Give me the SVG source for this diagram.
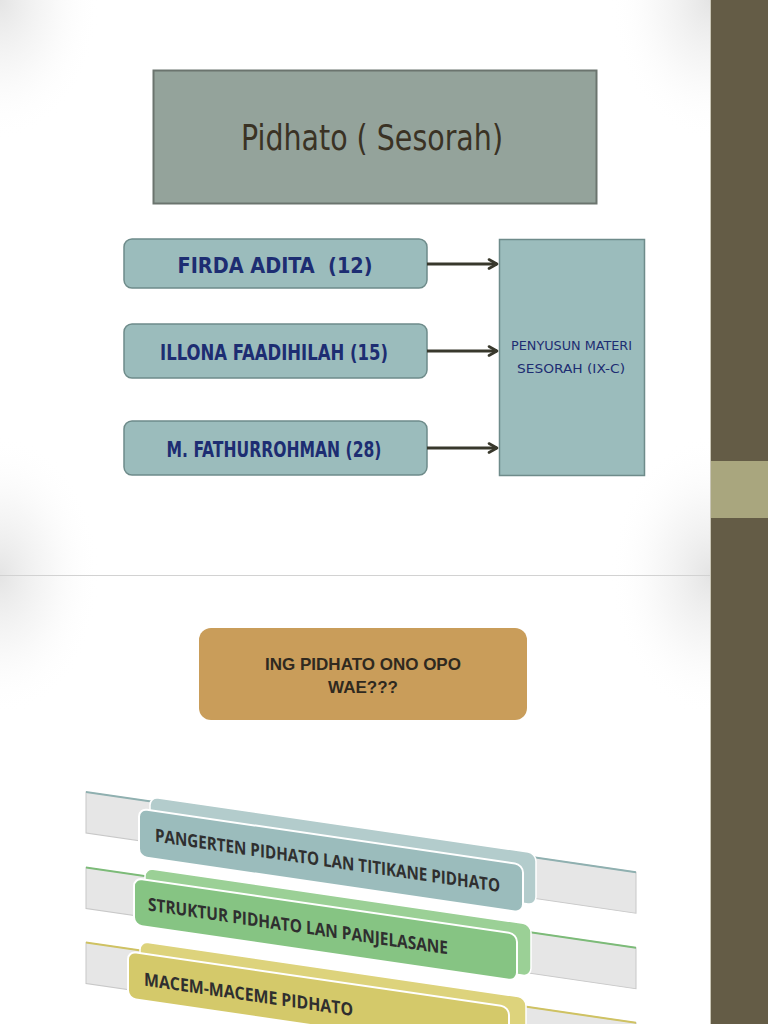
<svg xmlns="http://www.w3.org/2000/svg" width="768" height="1024" viewBox="0 0 768 1024">
<defs>
<radialGradient id="vig" cx="0.5" cy="0.5" r="0.5"><stop offset="0" stop-color="#e4e4e4"/><stop offset="0.5" stop-color="#efefef" stop-opacity="0.5"/><stop offset="1" stop-color="#ffffff" stop-opacity="0"/></radialGradient>
<marker id="arr" viewBox="0 0 12 12" refX="10" refY="6" markerWidth="12" markerHeight="12" markerUnits="userSpaceOnUse" orient="auto">
<path d="M2,1.5 L10,6 L2,10.5" fill="none" stroke="#38382c" stroke-width="2.6" stroke-linecap="round" stroke-linejoin="round"/>
</marker>
<style>
.name{font-family:"DejaVu Sans Condensed","DejaVu Sans",sans-serif;font-weight:700;font-size:21px;fill:#1d2d72;text-anchor:middle;white-space:pre}
.nbox{fill:#9bbcbc;stroke:#6e8b8a;stroke-width:1.5}
.conn{stroke:#38382c;stroke-width:3;fill:none}
.rib{font-family:"Open Sans","Liberation Sans",sans-serif;font-weight:700;font-size:18px;fill:#2f2f2f}
.strip{fill:#e6e6e6}
</style>
<clipPath id="s1"><rect x="0" y="0" width="710" height="575"/></clipPath>
<clipPath id="s2"><rect x="0" y="576" width="710" height="448"/></clipPath>
</defs>
<rect x="0" y="0" width="768" height="1024" fill="#ffffff"/>
<g clip-path="url(#s1)">
<ellipse cx="0" cy="0" rx="100" ry="140" fill="url(#vig)"/>
<ellipse cx="0" cy="575" rx="100" ry="140" fill="url(#vig)"/>
<ellipse cx="710" cy="0" rx="100" ry="140" fill="url(#vig)"/>
<ellipse cx="710" cy="575" rx="100" ry="140" fill="url(#vig)"/>
</g>
<g clip-path="url(#s2)">
<ellipse cx="0" cy="576" rx="100" ry="140" fill="url(#vig)"/>
<ellipse cx="710" cy="576" rx="100" ry="140" fill="url(#vig)"/>
</g>
<line x1="0" y1="575.5" x2="710" y2="575.5" stroke="#d2d2d2" stroke-width="1.2"/>
<!-- side bar -->
<rect x="711" y="0" width="57" height="1024" fill="#645c46"/>
<rect x="711" y="461" width="57" height="57" fill="#a9a67e"/>
<line x1="710.5" y1="0" x2="710.5" y2="1024" stroke="#c9c6b6" stroke-width="1"/>

<g id="title">
<rect x="153.5" y="70.5" width="443" height="133" fill="#94a39b" stroke="#6b746e" stroke-width="2"/>
<text x="372" y="150" font-family="DejaVu Sans Condensed,DejaVu Sans,sans-serif" font-size="35" fill="#3a3224" text-anchor="middle" textLength="262" lengthAdjust="spacingAndGlyphs">Pidhato ( Sesorah)</text>
</g>

<g id="firda">
<rect class="nbox" x="124" y="239" width="303" height="49" rx="8"/>
<text class="name" x="275" y="273" textLength="195" lengthAdjust="spacingAndGlyphs">FIRDA ADITA  (12)</text>
</g>
<g id="illona">
<rect class="nbox" x="124" y="324" width="303" height="54" rx="8"/>
<text class="name" x="274" y="360" textLength="228" lengthAdjust="spacingAndGlyphs">ILLONA FAADIHILAH (15)</text>
</g>
<g id="fathur">
<rect class="nbox" x="124" y="421" width="303" height="54" rx="8"/>
<text class="name" x="274" y="457" textLength="215" lengthAdjust="spacingAndGlyphs">M. FATHURROHMAN (28)</text>
</g>
<g id="penyusun">
<rect class="nbox" x="499.5" y="239.5" width="145" height="236"/>
<text font-family="DejaVu Sans Condensed,DejaVu Sans,sans-serif" font-size="13" fill="#1d2d72" text-anchor="middle"><tspan x="571.5" y="350" textLength="121" lengthAdjust="spacingAndGlyphs">PENYUSUN MATERI</tspan><tspan x="571" y="373" textLength="108" lengthAdjust="spacingAndGlyphs">SESORAH (IX-C)</tspan></text>
</g>

<g id="connectors">
<line class="conn" x1="427" y1="264" x2="497" y2="264" marker-end="url(#arr)"/>
<line class="conn" x1="427" y1="351" x2="497" y2="351" marker-end="url(#arr)"/>
<line class="conn" x1="427" y1="448" x2="497" y2="448" marker-end="url(#arr)"/>
</g>

<g id="question">
<rect x="199" y="628" width="328" height="92" rx="12" fill="#c99d5a"/>
<text font-family="Liberation Sans,Arial,sans-serif" font-weight="700" font-size="17" fill="#2f291f" text-anchor="middle"><tspan x="363" y="670">ING PIDHATO ONO OPO</tspan><tspan x="363" y="693">WAE???</tspan></text>
</g>

<g transform="skewY(8.3)">
<g id="band1">
<rect class="strip" x="86" y="779.5" width="550" height="41" stroke="#c8c8c8" stroke-width="1"/>
<line x1="86" y1="779.5" x2="636" y2="779.5" stroke="#8fb0b0" stroke-width="2"/>
<rect x="150" y="775" width="386" height="52" rx="8" fill="#b3cccc" stroke="#ffffff" stroke-width="1.5"/>
<rect x="139" y="788.3" width="384" height="48" rx="8" fill="#9bbcbc" stroke="#ffffff" stroke-width="2"/>
<text class="rib" x="155" y="819" textLength="345" lengthAdjust="spacingAndGlyphs">PANGERTEN PIDHATO LAN TITIKANE PIDHATO</text>
</g>
<g id="band2">
<rect class="strip" x="86" y="855" width="550" height="41" stroke="#c8c8c8" stroke-width="1"/>
<line x1="86" y1="855" x2="636" y2="855" stroke="#7cbb78" stroke-width="2"/>
<rect x="145" y="847" width="386" height="52" rx="8" fill="#9bd096" stroke="#ffffff" stroke-width="1.5"/>
<rect x="134" y="858.5" width="383" height="47" rx="8" fill="#86c483" stroke="#ffffff" stroke-width="2"/>
<text class="rib" x="148" y="889" textLength="300" lengthAdjust="spacingAndGlyphs">STRUKTUR PIDHATO LAN PANJELASANE</text>
</g>
<g id="band3">
<rect class="strip" x="86" y="930" width="550" height="41" stroke="#c8c8c8" stroke-width="1"/>
<line x1="86" y1="930" x2="636" y2="930" stroke="#cfc262" stroke-width="2"/>
<rect x="140" y="921" width="386" height="52" rx="8" fill="#ddd37c" stroke="#ffffff" stroke-width="1.5"/>
<rect x="128" y="932.7" width="381" height="47" rx="8" fill="#d4c96a" stroke="#ffffff" stroke-width="2"/>
<text class="rib" x="144" y="964.5" textLength="209" lengthAdjust="spacingAndGlyphs">MACEM-MACEME PIDHATO</text>
</g>
</g>
</svg>
